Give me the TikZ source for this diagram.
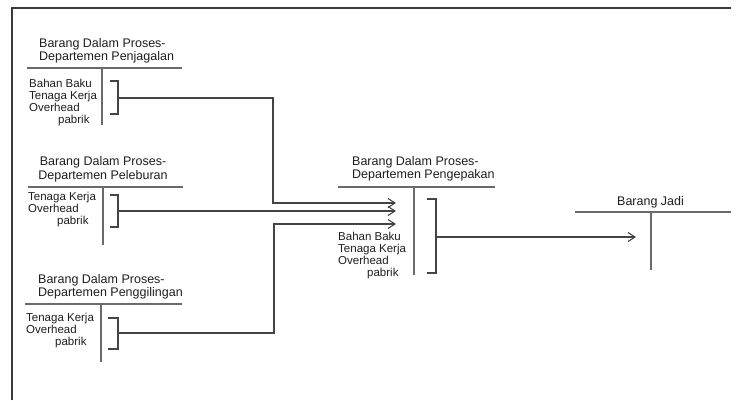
\documentclass[tikz,border=0pt]{standalone}
\usepackage{fontspec}
\setmainfont{Liberation Sans}
\usetikzlibrary{arrows.meta}
\definecolor{TLineGray}{HTML}{6A6A6A}
\definecolor{FlowGray}{HTML}{444444}
\definecolor{FrameGray}{HTML}{3A3A3A}
\definecolor{TextDark}{HTML}{1E1E1E}

\begin{document}
\begin{tikzpicture}[
  x=1pt, y=-1pt,
  title/.style={anchor=base west, inner sep=0pt, align=left, text=TextDark,
                font=\fontsize{12.5}{13.5}\selectfont},
  items/.style={anchor=base west, inner sep=0pt, align=left, text=TextDark,
                font=\fontsize{11.5}{12}\selectfont},
  tline/.style={line width=1.4pt, color=TLineGray},
  brk/.style={line width=1.2pt, color=FlowGray},
  flow/.style={-{Straight Barb[length=7pt,width=9pt]}, line width=1.1pt, color=FlowGray},
  frame/.style={line width=1.6pt, color=FrameGray},
]
  \useasboundingbox (0,0) rectangle (741,400);
  \draw[frame] (12,400) -- (12,8) -- (731,8);

  % Account 1: Penjagalan (base = last line)
  \node[title] (penjagalan) at (39,60.5) {Barang Dalam Proses-\\Departemen Penjagalan};
  \draw[tline] (27,68) -- (182,68);
  \draw[tline] (102,68) -- (102,125);
  \node[items] (penjagalan-items) at (29,123) {Bahan Baku\\Tenaga Kerja\\Overhead\\\hspace*{29pt}pabrik};
  \draw[brk] (110,81) -- (118,81) -- (118,114) -- (110,114);
  \coordinate (penjagalan-out) at (118,98);

  % Account 2: Peleburan
  \node[title, anchor=base, align=center] (peleburan) at (103,179) {Barang Dalam Proses-\\Departemen Peleburan};
  \draw[tline] (28,187) -- (183,187);
  \draw[tline] (103,187) -- (103,245);
  \node[items] (peleburan-items) at (28,224) {Tenaga Kerja\\Overhead\\\hspace*{29pt}pabrik};
  \draw[brk] (110,195) -- (118,195) -- (118,227) -- (110,227);
  \coordinate (peleburan-out) at (118,211);

  % Account 3: Penggilingan
  \node[title] (penggilingan) at (38,296.5) {Barang Dalam Proses-\\Departemen Penggilingan};
  \draw[tline] (25,304) -- (182,304);
  \draw[tline] (101,304) -- (101,362);
  \node[items] (penggilingan-items) at (26,345) {Tenaga Kerja\\Overhead\\\hspace*{29pt}pabrik};
  \draw[brk] (108,318) -- (118,318) -- (118,349) -- (108,349);
  \coordinate (penggilingan-out) at (118,333);

  % Account 4: Pengepakan
  \node[title] (pengepakan) at (352,178.5) {Barang Dalam Proses-\\Departemen Pengepakan};
  \draw[tline] (338,187) -- (495,187);
  \draw[tline] (414,187) -- (414,275);
  \node[items] (pengepakan-items) at (338,276) {Bahan Baku\\Tenaga Kerja\\Overhead\\\hspace*{29pt}pabrik};
  \draw[brk] (427,199) -- (436,199) -- (436,273) -- (427,273);
  \coordinate (pengepakan-in1) at (396,203);
  \coordinate (pengepakan-in2) at (396,211);
  \coordinate (pengepakan-in3) at (396,224);
  \coordinate (pengepakan-out) at (436,237);

  % Account 5: Barang Jadi
  \node[title] (jadi) at (617,205) {Barang Jadi};
  \draw[tline] (575,212) -- (731,212);
  \draw[tline] (651,212) -- (651,270);
  \coordinate (jadi-in) at (636,237);

  % Arrows
  \draw[flow] (penjagalan-out) -- ++(155,0) |- (pengepakan-in1);
  \draw[flow] (peleburan-out) -- (pengepakan-in2);
  \draw[flow] (penggilingan-out) -- ++(156,0) |- (pengepakan-in3);
  \draw[flow] (pengepakan-out) -- (jadi-in);
\end{tikzpicture}
\end{document}
